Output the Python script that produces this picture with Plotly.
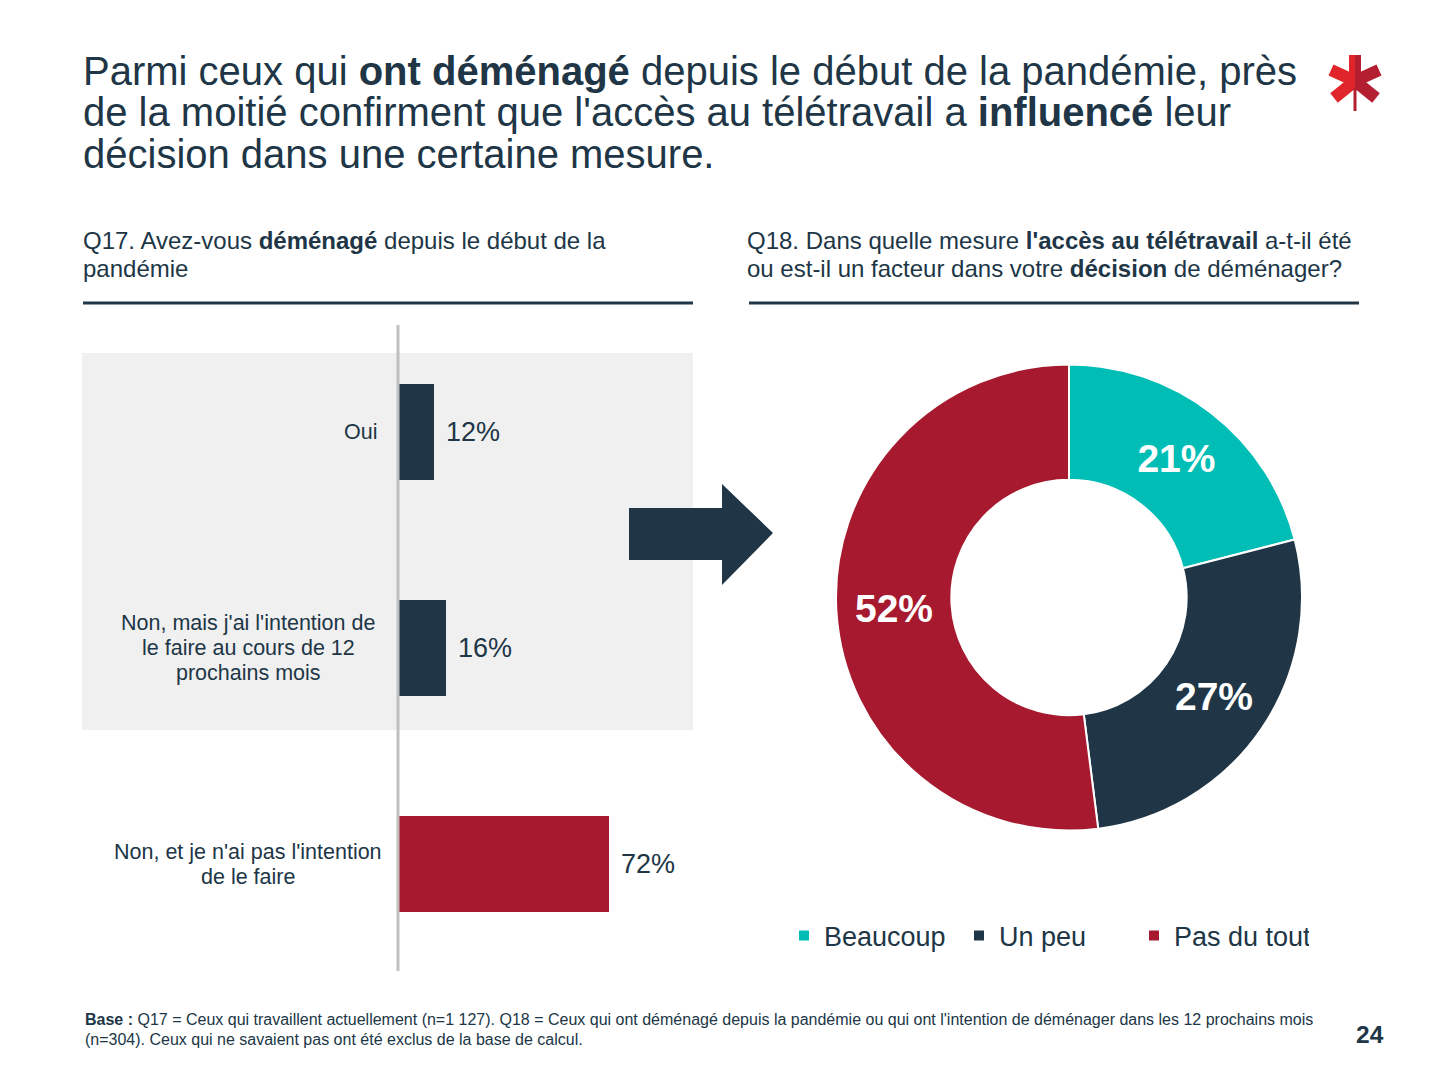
import plotly.graph_objects as go

# ---------------- data ----------------
q17_labels = ["Oui", "Non, mais j'ai l'intention de<br>le faire au cours de 12<br>prochains mois",
              "Non, et je n'ai pas l'intention<br>de le faire"]
q17_values = [12, 16, 72]
q18_labels = ["Beaucoup", "Un peu", "Pas du tout"]
q18_values = [21, 27, 52]

NAVY = "#203646"
RED = "#A6192E"
TEAL = "#00BDB5"
TXT = "#203646"
FONT = "Liberation Sans, Arial, sans-serif"

OFF = 8  # browser body margin
W, H = 1440 - 2 * OFF, 1080 - 2 * OFF
def px(x): return (x - OFF) / W
def py(y): return 1 - (y - OFF) / H

fig = go.Figure()

cats = ["c0", "c1", "c2"]
bar_colors = [NAVY, NAVY, RED]
fig.add_trace(go.Bar(
    x=q17_values, y=cats, orientation="h", width=0.444,
    marker=dict(color=bar_colors, line=dict(width=0)),
    showlegend=False, hoverinfo="skip",
))

fig.add_trace(go.Pie(
    labels=q18_labels, values=q18_values, hole=0.505, sort=False,
    direction="clockwise", rotation=0,
    marker=dict(colors=[TEAL, NAVY, RED], line=dict(color="white", width=2)),
    texttemplate="<b>%{value}%</b>", textposition="inside",
    insidetextorientation="horizontal",
    textfont=dict(family=FONT, size=39, color="white"),
    domain=dict(x=[px(836), px(1302)], y=[py(831), py(364)]),
    showlegend=True, hoverinfo="label+percent",
))

fig.update_layout(
    width=W, height=H, margin=dict(l=0, r=0, t=0, b=0),
    paper_bgcolor="white", plot_bgcolor="rgba(0,0,0,0)",
    font=dict(family=FONT, color=TXT),
    bargap=0,
    xaxis=dict(domain=[px(399), px(693)], range=[0, 100.8], visible=False, fixedrange=True),
    yaxis=dict(domain=[py(972), py(324)], range=[2.5, -0.5], showticklabels=False,
               showgrid=False, zeroline=False, showline=False, fixedrange=True,
               categoryorder="array", categoryarray=cats),
    legend=dict(orientation="h", x=px(784), y=py(936), xanchor="left", yanchor="middle",
                font=dict(family=FONT, size=27, color=TXT), itemwidth=30,
                entrywidth=130, entrywidthmode="pixels",
                bgcolor="rgba(0,0,0,0)", tracegroupgap=0),
)

shapes = []
# grey background panel
shapes.append(dict(type="rect", xref="paper", yref="paper", x0=px(82), x1=px(693),
                   y0=py(730), y1=py(353), fillcolor="#F0F0F0", line=dict(width=0), layer="below"))
# vertical axis line
shapes.append(dict(type="line", xref="paper", yref="paper", x0=px(398), x1=px(398),
                   y0=py(971), y1=py(325), line=dict(color="#BFBFBF", width=3)))
# underline rules
shapes.append(dict(type="line", xref="paper", yref="paper", x0=px(83), x1=px(693),
                   y0=py(303), y1=py(303), line=dict(color=NAVY, width=3)))
shapes.append(dict(type="line", xref="paper", yref="paper", x0=px(749), x1=px(1359),
                   y0=py(303), y1=py(303), line=dict(color=NAVY, width=3)))
# arrow
arrow_pts = [(629, 508), (722, 508), (722, 484), (773, 533), (722, 585), (722, 560), (629, 560)]
path = "M " + " L ".join(f"{px(x)},{py(y)}" for x, y in arrow_pts) + " Z"
shapes.append(dict(type="path", xref="paper", yref="paper", path=path,
                   fillcolor=NAVY, line=dict(width=0)))
# logo (asterisk)
cx, cy = 1355, 81
arms = [((1331, 70), "#E0262B"), ((1334, 98), "#E0262B"), ((1379, 70), "#B31E30"), ((1376, 98), "#B31E30")]
for (ex, ey), col in arms:
    shapes.append(dict(type="line", xref="paper", yref="paper", x0=px(cx), y0=py(cy),
                       x1=px(ex), y1=py(ey), line=dict(color=col, width=12)))
shapes.append(dict(type="rect", xref="paper", yref="paper", x0=px(1349), x1=px(1355),
                   y0=py(90), y1=py(55), fillcolor="#E0262B", line=dict(width=0)))
shapes.append(dict(type="rect", xref="paper", yref="paper", x0=px(1355), x1=px(1361),
                   y0=py(90), y1=py(55), fillcolor="#B31E30", line=dict(width=0)))
shapes.append(dict(type="rect", xref="paper", yref="paper", x0=px(1353.5), x1=px(1356.5),
                   y0=py(111), y1=py(88), fillcolor="#B31E30", line=dict(width=0)))
fig.update_layout(shapes=shapes)

ann = []
def text(x, y, s, size, xanchor="left", yanchor="middle", align="left", color=TXT):
    ann.append(dict(xref="paper", yref="paper", x=px(x), y=py(y), text=s, showarrow=False,
                    xanchor=xanchor, yanchor=yanchor, align=align,
                    font=dict(family=FONT, size=size, color=color)))

# title
title_lines = ["Parmi ceux qui <b>ont déménagé</b> depuis le début de la pandémie, près",
               "de la moitié confirment que l'accès au télétravail a <b>influencé</b> leur",
               "décision dans une certaine mesure."]
for i, s in enumerate(title_lines):
    text(81, 71 + i * 41.5, s, 40)

# subtitles
text(81, 240, "Q17. Avez-vous <b>déménagé</b> depuis le début de la", 24)
text(81, 268, "pandémie", 24)
text(745, 240, "Q18. Dans quelle mesure <b>l'accès au télétravail</b> a-t-il été", 24)
text(745, 268, "ou est-il un facteur dans votre <b>décision</b> de déménager?", 24)

# category labels (each line placed with tight line spacing)
label_x = [(379, "right"), (248, "center"), (248, "center")]
LINE = 25
for c, lab, (lx, anc) in zip(cats, q17_labels, label_x):
    parts = lab.split("<br>")
    n = len(parts)
    for k, part in enumerate(parts):
        ann.append(dict(xref="paper", yref="y", x=px(lx), y=c, text=part, showarrow=False,
                        xanchor=anc, yanchor="middle", align="center",
                        yshift=-(k - (n - 1) / 2) * LINE,
                        font=dict(family=FONT, size=21.5, color=TXT)))
# value labels
for c, v in zip(cats, q17_values):
    ann.append(dict(xref="x", yref="y", x=v, y=c, text=f"{v}%", showarrow=False,
                    xanchor="left", yanchor="middle", xshift=10,
                    font=dict(family=FONT, size=27, color=TXT)))

# footnote
text(83, 1019, "<b>Base :</b> Q17 = Ceux qui travaillent actuellement (n=1 127). Q18 = Ceux qui ont déménagé depuis la pandémie ou qui ont l'intention de déménager dans les 12 prochains mois", 16)
text(83, 1039, "(n=304). Ceux qui ne savaient pas ont été exclus de la base de calcul.", 16)
text(1370, 1034, "<b>24</b>", 24.5, xanchor="center")

fig.update_layout(annotations=ann)
fig.write_html("out.html")
